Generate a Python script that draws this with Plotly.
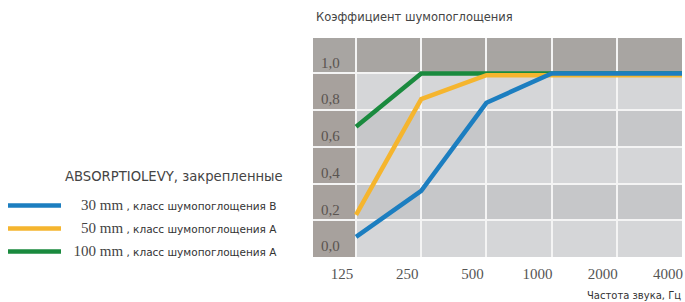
import plotly.graph_objects as go

freq_labels = ["125", "250", "500", "1000", "2000", "4000"]
s30 = [0.11, 0.36, 0.84, 1.0, 1.0, 1.0]
s50 = [0.23, 0.86, 0.99, 0.99, 0.99, 0.99]
s100 = [0.71, 1.0, 1.0, 1.0, 1.0, 1.0]
y_ticks = [0.0, 0.2, 0.4, 0.6, 0.8, 1.0]

series = [
    ("30", "В", s30, "#1c7ec0"),
    ("50", "А", s50, "#f5b52e"),
    ("100", "А", s100, "#1a8a3e"),
]

SERIF = "Liberation Serif, DejaVu Serif, serif"
SANS = "DejaVu Sans, Open Sans, sans-serif"

W, H = 685, 302
ML, MR, MT, MB = 313, 3, 38, 45
PW, PH = W - ML - MR, H - MT - MB


def px_x(px):
    return (px - ML) / PW


def px_y(py):
    return (H - MB - py) / PH


xs = list(range(len(freq_labels)))
fig = go.Figure()

for i, (mm, cls, vals, col) in enumerate(reversed(series)):
    pad = "\u00a0" * (4 if mm != "100" else 2)
    name = (f'<span style="font-family:{SERIF};font-size:15px;color:#444">{pad}{mm} mm</span>'
            f'<span style="font-size:10.5px;color:#333"> , класс шумопоглощения {cls}</span>')
    fig.add_trace(go.Scatter(
        x=xs, y=vals, mode="lines", name=name,
        line=dict(color=col, width=4.5),
        legendrank=3 - i, legendgroup=f"g{mm}",
        hoverinfo="skip",
    ))

shapes = []
shapes.append(dict(type="rect", xref="x", yref="y", x0=-0.7, x1=0, y0=0, y1=1.0,
                   fillcolor="#a7a19d", line=dict(width=0), layer="below"))
shapes.append(dict(type="rect", xref="x", yref="y", x0=-0.7, x1=5.2, y0=1.0, y1=1.3,
                   fillcolor="#a8a5a2", line=dict(width=0), layer="below"))
for lo in (0.2, 0.6):
    shapes.append(dict(type="rect", xref="x", yref="y", x0=0, x1=5.2, y0=lo, y1=lo + 0.2,
                       fillcolor="#c6c7c9", line=dict(width=0), layer="below"))

fig.update_layout(
    width=W, height=H,
    margin=dict(l=ML, r=MR, t=MT, b=MB),
    paper_bgcolor="white",
    plot_bgcolor="#d5d6d8",
    separators=",.",
    shapes=shapes,
    showlegend=True,
    legend=dict(
        xref="container", yref="container",
        x=3 / W, y=(H - 191) / H, xanchor="left", yanchor="top",
        itemwidth=53, tracegroupgap=4,
        font=dict(family=SANS, size=10.5, color="#333"),
        bgcolor="rgba(0,0,0,0)",
        itemclick=False, itemdoubleclick=False,
    ),
    xaxis=dict(
        range=[-0.66, 5.0],
        tickvals=xs, ticktext=freq_labels,
        showgrid=True, gridcolor="#f4f4f4", gridwidth=2,
        zeroline=False, showline=False, ticks="",
        ticklabelshift=-14, ticklabelstandoff=6,
        tickfont=dict(family=SERIF, size=15, color="#555"),
        fixedrange=True,
    ),
    yaxis=dict(
        range=[0, 1.193],
        tickvals=y_ticks, tickformat=".1f",
        showgrid=True, gridcolor="#f4f4f4", gridwidth=2,
        zeroline=False, showline=False, ticks="",
        ticklabelposition="inside",
        ticklabelshift=-11, ticklabelstandoff=5,
        tickfont=dict(family=SERIF, size=15, color="#5a5450"),
        fixedrange=True,
    ),
    annotations=[
        dict(text="Коэффициент шумопоглощения", xref="paper", yref="paper",
             x=px_x(314), y=px_y(17), xanchor="left", yanchor="middle",
             showarrow=False, font=dict(family=SANS, size=11.5, color="#444")),
        dict(text="Частота звука, Гц", xref="paper", yref="paper",
             x=px_x(683), y=px_y(295), xanchor="right", yanchor="middle",
             showarrow=False, font=dict(family=SANS, size=10, color="#333")),
        dict(text="ABSORPTIOLEVY, закрепленные", xref="paper", yref="paper",
             x=px_x(285), y=px_y(176), xanchor="right", yanchor="middle",
             showarrow=False, font=dict(family=SANS, size=13.2, color="#444")),
    ],
)

fig.write_html("out.html", config={"displayModeBar": False},
               post_script="document.body.style.margin='0';")
